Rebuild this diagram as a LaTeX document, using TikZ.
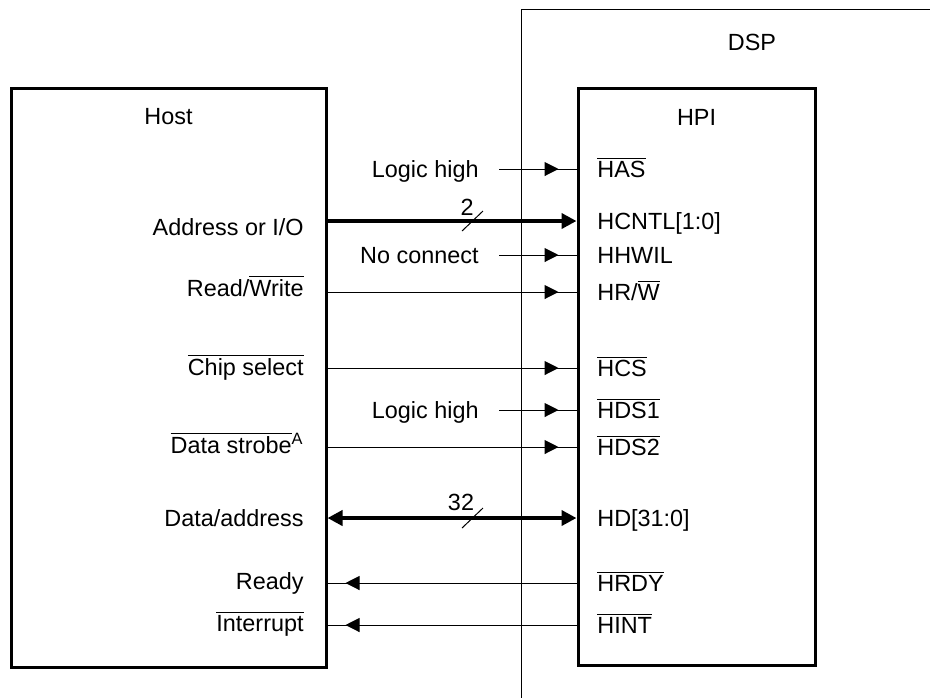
\documentclass[tikz,border=0pt]{standalone}
\usepackage{fontspec}
\setmainfont{Liberation Sans}
\usetikzlibrary{arrows.meta,decorations.markings}

\newcommand{\ovl}[1]{$\overline{\mbox{#1}}$}

\tikzset{
	blk/.style={draw, line width=1.5pt, inner sep=0pt},
	lbl/.style={inner sep=0pt, text height=8.4pt, text depth=0pt},
	sig/.style={line width=0.5pt},
	bus/.style={line width=2pt},
	fwd/.style={postaction={decorate}, decoration={markings,
		mark=at position -9pt with {\arrow{Triangle[length=7pt,width=7pt]}}}},
	bustip/.tip={Triangle[length=7.5pt,width=7.5pt]},
}

\begin{document}
\begin{tikzpicture}[x=0.5pt, y=-0.5pt, every node/.style={font=\fontsize{11.7}{14}\selectfont}]
	\useasboundingbox (0,0) rectangle (930,698);
	% Vùng DSP (chỉ có cạnh trái và cạnh trên)
	\draw[sig] (930,9) -- (521,9) -- (521,698);
	\node (dsp) at (752,42) {DSP};
	% Hai khối chính
	\node[blk, minimum width=157.5pt, minimum height=289.5pt] (host) at (168.5,377.5) {};
	\node[blk, minimum width=118.5pt, minimum height=288.5pt] (hpi) at (696.5,376.5) {};
	\node (hostname) at (168.5,117) {Host};
	\node (hpiname) at (696.5,117) {HPI};
	% Các chân phía HPI
	\foreach \nm/\y/\txt in {HAS/169/{\ovl{HAS}}, HCNTL/221/{HCNTL[1:0]}, HHWIL/255/{HHWIL},
		HRW/292/{HR/\ovl{W}}, HCS/368/{\ovl{HCS}}, HDSa/410/{\ovl{HDS1}}, HDSb/447/{\ovl{HDS2}},
		HD/518/{HD[31:0]}, HRDY/583/{\ovl{HRDY}}, HINT/625/{\ovl{HINT}}} {
		\node[lbl, anchor=west] (p\nm) at (597,\y) {\txt};
	}
	% Các tín hiệu phía Host
	\node[lbl, anchor=east] (hAddr) at (304,227) {Address or I/O};
	\node[lbl, anchor=east] (hRW) at (304,288) {Read/\ovl{Write}};
	\node[lbl, anchor=east] (hCS) at (304,367) {\ovl{Chip select}};
	\node[lbl, anchor=east] (hDS) at (304,445) {\ovl{Data strobe}\textsuperscript{A}};
	\node[lbl, anchor=east] (hData) at (304,518) {Data/address};
	\node[lbl, anchor=east] (hRdy) at (304,581) {Ready};
	\node[lbl, anchor=east] (hInt) at (304,623) {\ovl{Interrupt}};
	% Mức cố định
	\node[lbl, anchor=east] (high1) at (479,169) {Logic high};
	\node[lbl, anchor=east] (nocon) at (479,255) {No connect};
	\node[lbl, anchor=east] (high2) at (479,410) {Logic high};
	% Các đường nối
	\draw[sig, fwd] ([xshift=10pt]high1.east) -- (hpi.west |- pHAS);
	\draw[bus, -bustip] (host.east |- pHCNTL) -- (hpi.west |- pHCNTL);
	\draw[sig, fwd] ([xshift=10pt]nocon.east) -- (hpi.west |- pHHWIL);
	\draw[sig, fwd] (host.east |- pHRW) -- (hpi.west |- pHRW);
	\draw[sig, fwd] (host.east |- pHCS) -- (hpi.west |- pHCS);
	\draw[sig, fwd] ([xshift=10pt]high2.east) -- (hpi.west |- pHDSa);
	\draw[sig, fwd] (host.east |- pHDSb) -- (hpi.west |- pHDSb);
	\draw[bus, bustip-bustip] (host.east |- pHD) -- (hpi.west |- pHD);
	\draw[sig, fwd] (hpi.west |- pHRDY) -- (host.east |- pHRDY);
	\draw[sig, fwd] (hpi.west |- pHINT) -- (host.east |- pHINT);
	% Dấu gạch chéo độ rộng bus
	\draw[sig] (462,231) -- (483,211);
	\node[lbl] (w2) at (467,207) {2};
	\draw[sig] (462,528) -- (483,508);
	\node[lbl] (w32) at (461,502) {32};
\end{tikzpicture}
\end{document}
